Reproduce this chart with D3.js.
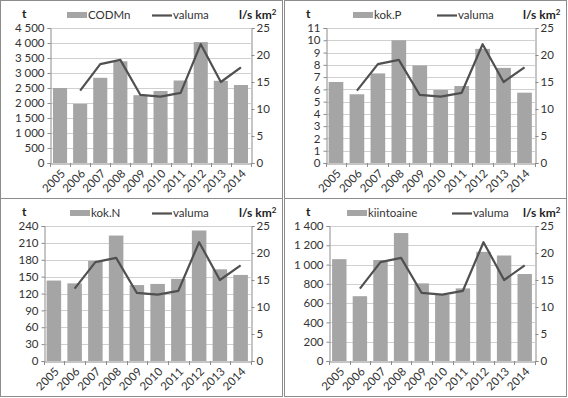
<!DOCTYPE html>
<html>
<head>
<meta charset="utf-8">
<script src="https://cdn.jsdelivr.net/npm/d3@7"></script>
<style>
  body { margin: 0; background: #fff; }
  svg text { font-family: Lato, "Liberation Sans", sans-serif; fill: #333; }
</style>
</head>
<body>
<div id="chart"></div>
<script>
// years on the x axis
var years = ["2005", "2006", "2007", "2008", "2009", "2010", "2011", "2012", "2013", "2014"];
// runoff l/s km2, same for every panel (no value for 2005)
var valuma = [null, 13.4, 18.3, 19.1, 12.6, 12.3, 13.0, 22.0, 15.0, 17.7];
// loads in tonnes
var codmn = [2500, 1970, 2840, 3390, 2260, 2400, 2750, 4030, 2740, 2600];
var kokP = [6.6, 5.6, 7.3, 10.0, 7.95, 5.95, 6.27, 9.3, 7.75, 5.73];
var kokN = [143, 138, 178, 223, 135, 137, 146, 232, 163, 153];
var kiintoaine = [1056, 672, 1047, 1327, 805, 686, 753, 1132, 1094, 902];
// left axis tick values
var ticksCod = [0, 500, 1000, 1500, 2000, 2500, 3000, 3500, 4000, 4500];
var ticksP = [0, 1, 2, 3, 4, 5, 6, 7, 8, 9, 10, 11];
var ticksN = [0, 30, 60, 90, 120, 150, 180, 210, 240];
var ticksKiin = [0, 200, 400, 600, 800, 1000, 1200, 1400];
// right axis tick values
var ticksRight = [0, 5, 10, 15, 20, 25];

var panels = [
  { name: "CODMn", values: codmn, ticks: ticksCod, ox: 0, oy: 0, left: 50, legX: 67, lineX: 152 },
  { name: "kok.P", values: kokP, ticks: ticksP, ox: 284, oy: 0, left: 41.5, legX: 69, lineX: 153 },
  { name: "kok.N", values: kokN, ticks: ticksN, ox: 0, oy: 198, left: 43.5, legX: 70, lineX: 152 },
  { name: "kiintoaine", values: kiintoaine, ticks: ticksKiin, ox: 284, oy: 198, left: 45, legX: 63, lineX: 168 }
];

var W = 568, H = 398;
var plotRight = 251, plotTop = 28, plotBottom = 163;

var svg = d3.select("#chart").append("svg")
  .attr("width", W)
  .attr("height", H);

// thousands separated by a space, like "4 500"
var fmt = function (d) { return d >= 1000 ? d3.format(",")(d).replace(",", " ") : String(d); };

panels.forEach(function (p) {
  var g = svg.append("g").attr("transform", "translate(" + p.ox + "," + p.oy + ")");

  // panel frame
  g.append("rect")
    .attr("x", 0.5).attr("y", 0.5)
    .attr("width", 282).attr("height", 198)
    .attr("fill", "#fff")
    .attr("stroke", "#8c8c8c");

  var x = d3.scaleBand().domain(years).range([p.left, plotRight]).paddingInner(0.3).paddingOuter(0.15);
  var xb = d3.scaleBand().domain(years).range([p.left, plotRight]);
  var y = d3.scaleLinear().domain([0, d3.max(p.ticks)]).range([plotBottom, plotTop]);
  var y2 = d3.scaleLinear().domain([0, 25]).range([plotBottom, plotTop]);

  // horizontal gridlines
  g.append("g").selectAll("line")
    .data(p.ticks.slice(1))
    .enter().append("line")
    .attr("x1", p.left).attr("x2", plotRight)
    .attr("y1", function (d) { return Math.round(y(d)) + 0.5; })
    .attr("y2", function (d) { return Math.round(y(d)) + 0.5; })
    .attr("stroke", "#d0d0d0");

  // bars
  g.append("g").selectAll("rect")
    .data(p.values)
    .enter().append("rect")
    .attr("x", function (d, i) { return x(years[i]); })
    .attr("y", function (d) { return y(d); })
    .attr("width", x.bandwidth())
    .attr("height", function (d) { return plotBottom - y(d); })
    .attr("fill", "#a5a5a5");

  // left axis
  var ya = g.append("g")
    .attr("transform", "translate(" + (Math.round(p.left) + 0.5) + ",0)")
    .call(d3.axisLeft(y).tickValues(p.ticks).tickFormat(fmt).tickSize(3).tickPadding(3));
  // right axis
  var yb = g.append("g")
    .attr("transform", "translate(" + (plotRight + 0.5) + ",0)")
    .call(d3.axisRight(y2).tickValues(ticksRight).tickSize(3).tickPadding(2));
  // bottom axis, labels rotated
  var xa = g.append("g")
    .attr("transform", "translate(0," + (plotBottom + 0.5) + ")")
    .call(d3.axisBottom(xb).tickSize(0));
  [ya, yb, xa].forEach(function (a) {
    a.select(".domain").attr("stroke", "#8c8c8c");
    a.selectAll(".tick line").attr("stroke", "#8c8c8c");
    a.selectAll("text").style("font-size", "11.5px").style("fill", "#333");
  });
  xa.selectAll(".tick text")
    .attr("x", 0).attr("y", 0).attr("dy", "0.35em")
    .attr("text-anchor", "end")
    .attr("transform", "translate(3,8) rotate(-45)");
  // ticks at band edges
  g.append("g").selectAll("line")
    .data(years.concat(["end"]))
    .enter().append("line")
    .attr("x1", function (d, i) { return Math.round(p.left + i * xb.step()) + 0.5; })
    .attr("x2", function (d, i) { return Math.round(p.left + i * xb.step()) + 0.5; })
    .attr("y1", plotBottom).attr("y2", plotBottom + 4)
    .attr("stroke", "#8c8c8c");

  // runoff line
  var line = d3.line()
    .defined(function (d) { return d != null; })
    .x(function (d, i) { return xb(years[i]) + xb.bandwidth() / 2; })
    .y(function (d) { return y2(d); });
  g.append("path")
    .datum(valuma)
    .attr("d", line)
    .attr("fill", "none")
    .attr("stroke", "#505050")
    .attr("stroke-width", 2.2)
    .attr("stroke-linejoin", "round");

  // axis titles
  g.append("text").attr("x", 22).attr("y", 18)
    .style("font-size", "12px").style("font-weight", "bold").style("fill", "#222")
    .text("t");
  var unit = g.append("text").attr("x", 239).attr("y", 19)
    .style("font-size", "12px").style("font-weight", "bold").style("fill", "#222");
  unit.append("tspan").text("l/s km");
  unit.append("tspan").attr("dy", -4).style("font-size", "8px").text("2");

  // legend
  g.append("rect").attr("x", p.legX).attr("y", 12).attr("width", 20).attr("height", 6).attr("fill", "#a5a5a5");
  g.append("text").attr("x", p.legX + 21).attr("y", 19).style("font-size", "11.5px").text(p.name);
  g.append("line").attr("x1", p.lineX).attr("x2", p.lineX + 20).attr("y1", 15.5).attr("y2", 15.5)
    .attr("stroke", "#505050").attr("stroke-width", 2.2);
  g.append("text").attr("x", p.lineX + 21).attr("y", 19).style("font-size", "11.5px").text("valuma");
});
</script>
</body>
</html>
